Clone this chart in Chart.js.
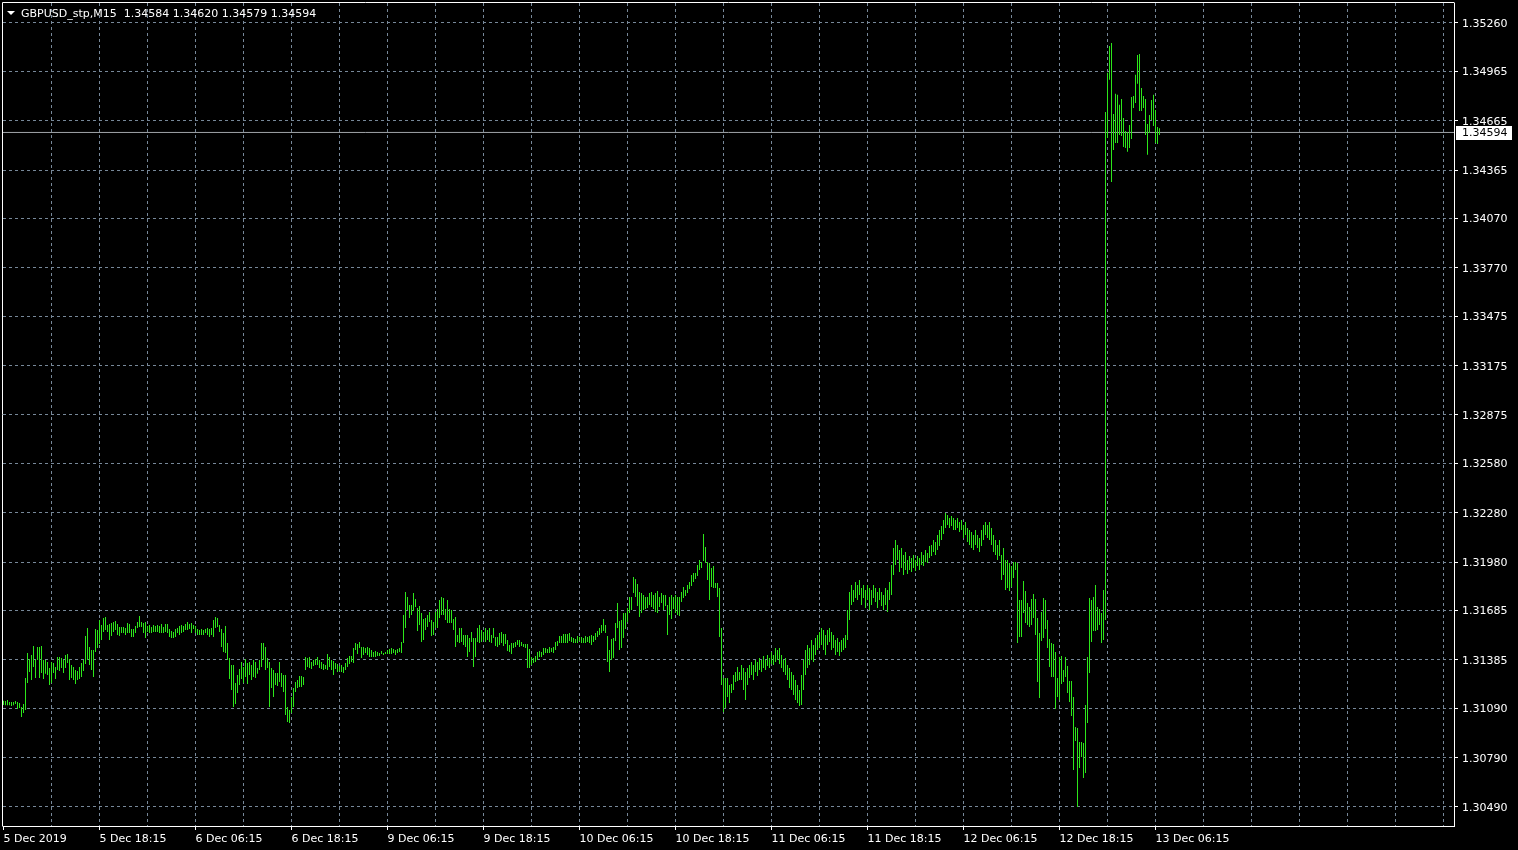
<!DOCTYPE html>
<html>
<head>
<meta charset="utf-8">
<title>GBPUSD_stp,M15</title>
<script src="https://cdn.jsdelivr.net/npm/chart.js@4.4.1/dist/chart.umd.min.js"></script>
<style>
  html, body { margin: 0; padding: 0; background: #000; }
  #wrap { width: 1518px; height: 850px; }
</style>
</head>
<body>
<div id="wrap"><canvas id="chart" width="1518" height="850"></canvas></div>
<script>
const symbol = "GBPUSD_stp,M15";
// open, high, low, close of the last bar
const lastBar = [1.34584, 1.34620, 1.34579, 1.34594];

const xTickLabels = ["5 Dec 2019", "5 Dec 18:15", "6 Dec 06:15", "6 Dec 18:15", "9 Dec 06:15", "9 Dec 18:15",
  "10 Dec 06:15", "10 Dec 18:15", "11 Dec 06:15", "11 Dec 18:15", "12 Dec 06:15", "12 Dec 18:15", "13 Dec 06:15"];

const yTickLabels = ["1.35260", "1.34965", "1.34665", "1.34365", "1.34070", "1.33770", "1.33475", "1.33175",
  "1.32875", "1.32580", "1.32280", "1.31980", "1.31685", "1.31385", "1.31090", "1.30790", "1.30490"];

// M15 bar highs, one per bar
const highs = [
  1.31137,1.31135,1.31141,1.31129,1.31129,1.31129,1.31135,1.31129,1.31123,1.31098,
  1.31117,1.31275,1.31427,1.31390,1.31415,1.31470,1.31384,1.31464,1.31464,1.31470,
  1.31384,1.31384,1.31372,1.31336,1.31372,1.31366,1.31342,1.31403,1.31403,1.31397,
  1.31384,1.31415,1.31421,1.31390,1.31354,1.31342,1.31324,1.31318,1.31342,1.31366,
  1.31384,1.31530,1.31579,1.31464,1.31445,1.31445,1.31573,1.31567,1.31628,1.31597,
  1.31640,1.31646,1.31597,1.31603,1.31609,1.31616,1.31622,1.31603,1.31585,1.31585,
  1.31585,1.31579,1.31609,1.31603,1.31573,1.31573,1.31591,1.31616,1.31652,1.31616,
  1.31609,1.31616,1.31591,1.31597,1.31585,1.31597,1.31591,1.31597,1.31591,1.31603,
  1.31585,1.31603,1.31603,1.31573,1.31561,1.31555,1.31573,1.31579,1.31591,1.31597,
  1.31591,1.31603,1.31616,1.31603,1.31609,1.31597,1.31591,1.31573,1.31567,1.31573,
  1.31567,1.31573,1.31579,1.31573,1.31579,1.31628,1.31646,1.31640,1.31597,1.31573,
  1.31549,1.31591,1.31488,1.31397,1.31354,1.31354,1.31245,1.31293,1.31330,1.31372,
  1.31342,1.31390,1.31366,1.31372,1.31354,1.31384,1.31372,1.31336,1.31384,1.31488,
  1.31488,1.31464,1.31397,1.31372,1.31336,1.31324,1.31306,1.31306,1.31372,1.31306,
  1.31293,1.31293,1.31098,1.31080,1.31159,1.31214,1.31251,1.31263,1.31287,1.31287,
  1.31281,1.31403,1.31397,1.31403,1.31372,1.31384,1.31390,1.31403,1.31384,1.31372,
  1.31360,1.31354,1.31421,1.31403,1.31384,1.31378,1.31366,1.31360,1.31348,1.31354,
  1.31342,1.31366,1.31397,1.31409,1.31409,1.31457,1.31488,1.31482,1.31494,1.31464,
  1.31464,1.31457,1.31464,1.31457,1.31445,1.31433,1.31439,1.31433,1.31427,1.31439,
  1.31427,1.31433,1.31445,1.31451,1.31457,1.31451,1.31445,1.31451,1.31457,1.31494,
  1.31658,1.31798,1.31768,1.31719,1.31719,1.31792,1.31755,1.31701,1.31713,1.31670,
  1.31634,1.31640,1.31658,1.31677,1.31628,1.31616,1.31677,1.31695,1.31749,1.31768,
  1.31762,1.31695,1.31749,1.31695,1.31689,1.31634,1.31646,1.31536,1.31579,1.31579,
  1.31536,1.31536,1.31536,1.31518,1.31555,1.31518,1.31518,1.31579,1.31597,1.31567,
  1.31555,1.31579,1.31567,1.31579,1.31536,1.31579,1.31524,1.31524,1.31549,1.31555,
  1.31543,1.31543,1.31506,1.31476,1.31488,1.31488,1.31494,1.31506,1.31506,1.31494,
  1.31482,1.31482,1.31482,1.31451,1.31403,1.31397,1.31409,1.31433,1.31439,1.31433,
  1.31457,1.31457,1.31451,1.31464,1.31457,1.31464,1.31494,1.31500,1.31530,1.31530,
  1.31543,1.31543,1.31543,1.31549,1.31524,1.31518,1.31512,1.31530,1.31524,1.31524,
  1.31518,1.31530,1.31524,1.31530,1.31536,1.31530,1.31549,1.31561,1.31579,1.31597,
  1.31634,1.31597,1.31530,1.31445,1.31512,1.31518,1.31609,1.31731,1.31622,1.31628,
  1.31670,1.31670,1.31701,1.31768,1.31768,1.31889,1.31877,1.31847,1.31798,1.31792,
  1.31780,1.31768,1.31768,1.31792,1.31798,1.31780,1.31792,1.31804,1.31768,1.31792,
  1.31780,1.31780,1.31719,1.31768,1.31780,1.31768,1.31780,1.31768,1.31768,1.31798,
  1.31828,1.31810,1.31841,1.31859,1.31901,1.31914,1.31914,1.31962,1.31993,1.31980,
  1.32151,1.32072,1.31980,1.31974,1.31944,1.31956,1.31853,1.31853,1.31822,1.31579,
  1.31275,1.31275,1.31275,1.31232,1.31239,1.31293,1.31312,1.31342,1.31312,1.31354,
  1.31336,1.31312,1.31336,1.31354,1.31372,1.31354,1.31384,1.31372,1.31397,1.31384,
  1.31409,1.31384,1.31415,1.31397,1.31433,1.31415,1.31457,1.31445,1.31457,1.31415,
  1.31384,1.31397,1.31354,1.31336,1.31312,1.31293,1.31263,1.31232,1.31202,1.31293,
  1.31384,1.31445,1.31476,1.31457,1.31506,1.31476,1.31518,1.31536,1.31555,1.31579,
  1.31567,1.31536,1.31567,1.31579,1.31555,1.31536,1.31506,1.31518,1.31494,1.31506,
  1.31518,1.31536,1.31689,1.31798,1.31841,1.31810,1.31859,1.31841,1.31871,1.31822,
  1.31841,1.31810,1.31841,1.31822,1.31810,1.31841,1.31822,1.31798,1.31822,1.31798,
  1.31780,1.31822,1.31810,1.31859,1.31962,1.32066,1.32114,1.32084,1.32054,1.32066,
  1.32023,1.32042,1.31993,1.32017,1.32005,1.32023,1.31993,1.32017,1.32005,1.32042,
  1.32023,1.32054,1.32036,1.32078,1.32084,1.32114,1.32102,1.32145,1.32175,1.32199,
  1.32236,1.32279,1.32266,1.32248,1.32260,1.32248,1.32236,1.32248,1.32224,1.32236,
  1.32205,1.32224,1.32187,1.32175,1.32163,1.32145,1.32175,1.32145,1.32126,1.32175,
  1.32205,1.32224,1.32205,1.32224,1.32187,1.32145,1.32114,1.32084,1.32114,1.32023,
  1.32066,1.31993,1.31993,1.31974,1.31956,1.31980,1.31980,1.31974,1.31749,1.31749,
  1.31865,1.31804,1.31731,1.31707,1.31755,1.31786,1.31755,1.31640,1.31549,1.31677,
  1.31762,1.31749,1.31628,1.31512,1.31488,1.31482,1.31433,1.31275,1.31403,1.31409,
  1.31324,1.31403,1.31348,1.31257,1.31257,1.31159,1.30977,1.30971,1.30885,1.30885,
  1.30879,1.31111,1.31403,1.31762,1.31749,1.31768,1.31841,1.31707,1.31695,1.31670,
  1.31810,1.34719,1.34957,1.35120,1.35139,1.34707,1.34829,1.34823,1.34762,1.34798,
  1.34682,1.34603,1.34597,1.34640,1.34810,1.34816,1.34945,1.35066,1.35072,1.34865,
  1.34816,1.34798,1.34646,1.34701,1.34792,1.34823,1.34731,1.34627,1.34620
];

// M15 bar lows, one per bar
const lows = [
  1.31111,1.31109,1.31109,1.31109,1.31104,1.31109,1.31117,1.31086,1.31092,1.31037,
  1.31062,1.31080,1.31245,1.31312,1.31263,1.31342,1.31275,1.31384,1.31275,1.31306,
  1.31269,1.31300,1.31293,1.31232,1.31245,1.31306,1.31269,1.31324,1.31318,1.31336,
  1.31306,1.31336,1.31366,1.31263,1.31275,1.31263,1.31239,1.31263,1.31269,1.31281,
  1.31318,1.31360,1.31384,1.31354,1.31324,1.31281,1.31433,1.31457,1.31482,1.31506,
  1.31555,1.31567,1.31555,1.31506,1.31530,1.31555,1.31567,1.31536,1.31530,1.31549,
  1.31549,1.31536,1.31549,1.31549,1.31524,1.31524,1.31549,1.31579,1.31585,1.31585,
  1.31549,1.31518,1.31555,1.31549,1.31549,1.31555,1.31555,1.31555,1.31549,1.31549,
  1.31549,1.31555,1.31549,1.31524,1.31518,1.31518,1.31524,1.31549,1.31536,1.31549,
  1.31555,1.31567,1.31567,1.31573,1.31549,1.31573,1.31549,1.31536,1.31536,1.31536,
  1.31536,1.31549,1.31536,1.31524,1.31536,1.31524,1.31579,1.31585,1.31555,1.31464,
  1.31433,1.31427,1.31384,1.31269,1.31202,1.31098,1.31117,1.31184,1.31232,1.31269,
  1.31245,1.31281,1.31239,1.31293,1.31263,1.31281,1.31275,1.31300,1.31324,1.31342,
  1.31384,1.31324,1.31336,1.31098,1.31214,1.31159,1.31232,1.31226,1.31251,1.31220,
  1.31190,1.31050,1.31007,1.31001,1.31062,1.31098,1.31190,1.31214,1.31220,1.31220,
  1.31232,1.31324,1.31342,1.31336,1.31330,1.31348,1.31354,1.31354,1.31336,1.31330,
  1.31324,1.31330,1.31324,1.31342,1.31324,1.31293,1.31330,1.31312,1.31318,1.31312,
  1.31306,1.31324,1.31342,1.31360,1.31372,1.31366,1.31445,1.31421,1.31457,1.31397,
  1.31415,1.31427,1.31415,1.31403,1.31403,1.31403,1.31403,1.31409,1.31409,1.31421,
  1.31415,1.31421,1.31421,1.31421,1.31421,1.31427,1.31415,1.31427,1.31433,1.31427,
  1.31488,1.31579,1.31689,1.31640,1.31658,1.31683,1.31707,1.31561,1.31597,1.31494,
  1.31506,1.31567,1.31585,1.31616,1.31530,1.31536,1.31579,1.31579,1.31640,1.31658,
  1.31658,1.31628,1.31609,1.31609,1.31609,1.31567,1.31464,1.31494,1.31488,1.31494,
  1.31476,1.31464,1.31403,1.31433,1.31494,1.31342,1.31403,1.31494,1.31488,1.31494,
  1.31506,1.31494,1.31506,1.31494,1.31488,1.31518,1.31470,1.31464,1.31476,1.31488,
  1.31470,1.31482,1.31439,1.31433,1.31421,1.31457,1.31464,1.31476,1.31464,1.31470,
  1.31464,1.31457,1.31336,1.31336,1.31354,1.31366,1.31372,1.31384,1.31403,1.31403,
  1.31415,1.31427,1.31427,1.31427,1.31433,1.31427,1.31445,1.31470,1.31488,1.31488,
  1.31488,1.31488,1.31488,1.31500,1.31494,1.31488,1.31488,1.31488,1.31500,1.31488,
  1.31488,1.31488,1.31494,1.31488,1.31476,1.31494,1.31506,1.31524,1.31536,1.31549,
  1.31561,1.31549,1.31372,1.31312,1.31384,1.31397,1.31500,1.31579,1.31445,1.31457,
  1.31518,1.31573,1.31616,1.31670,1.31689,1.31792,1.31768,1.31713,1.31646,1.31670,
  1.31689,1.31695,1.31701,1.31719,1.31707,1.31695,1.31677,1.31670,1.31707,1.31731,
  1.31689,1.31713,1.31536,1.31658,1.31634,1.31695,1.31670,1.31658,1.31652,1.31737,
  1.31762,1.31774,1.31792,1.31816,1.31835,1.31859,1.31877,1.31895,1.31932,1.31944,
  1.31987,1.31974,1.31871,1.31749,1.31828,1.31822,1.31822,1.31768,1.31524,1.31232,
  1.31068,1.31092,1.31159,1.31123,1.31184,1.31202,1.31251,1.31257,1.31263,1.31263,
  1.31202,1.31141,1.31232,1.31275,1.31293,1.31263,1.31312,1.31287,1.31324,1.31312,
  1.31336,1.31324,1.31348,1.31336,1.31360,1.31354,1.31372,1.31384,1.31360,1.31336,
  1.31312,1.31293,1.31263,1.31214,1.31202,1.31172,1.31141,1.31123,1.31104,1.31111,
  1.31202,1.31293,1.31336,1.31354,1.31384,1.31372,1.31415,1.31445,1.31457,1.31476,
  1.31445,1.31415,1.31476,1.31494,1.31445,1.31457,1.31415,1.31433,1.31409,1.31433,
  1.31445,1.31457,1.31506,1.31628,1.31719,1.31737,1.31762,1.31749,1.31780,1.31719,
  1.31762,1.31701,1.31749,1.31689,1.31719,1.31762,1.31737,1.31701,1.31749,1.31713,
  1.31689,1.31719,1.31677,1.31749,1.31780,1.31901,1.31962,1.31993,1.31920,1.31944,
  1.31901,1.31932,1.31908,1.31932,1.31920,1.31944,1.31926,1.31956,1.31932,1.31962,
  1.31956,1.31980,1.31974,1.32005,1.32017,1.32042,1.32023,1.32054,1.32078,1.32114,
  1.32151,1.32187,1.32205,1.32187,1.32199,1.32175,1.32175,1.32187,1.32163,1.32175,
  1.32126,1.32145,1.32102,1.32084,1.32066,1.32054,1.32084,1.32066,1.32042,1.32078,
  1.32114,1.32145,1.32126,1.32114,1.32084,1.32042,1.32023,1.31993,1.32017,1.31871,
  1.31901,1.31810,1.31822,1.31804,1.31828,1.31883,1.31932,1.31488,1.31524,1.31524,
  1.31670,1.31609,1.31597,1.31585,1.31597,1.31640,1.31536,1.31251,1.31153,1.31500,
  1.31518,1.31573,1.31457,1.31342,1.31281,1.31281,1.31086,1.31159,1.31141,1.31239,
  1.31251,1.31281,1.31184,1.31129,1.31043,1.30715,1.30892,1.30490,1.30727,1.30794,
  1.30666,1.30697,1.31001,1.31306,1.31494,1.31561,1.31561,1.31567,1.31597,1.31488,
  1.31506,1.31628,1.34560,1.34914,1.34293,1.34488,1.34530,1.34530,1.34579,1.34573,
  1.34505,1.34499,1.34476,1.34499,1.34554,1.34743,1.34774,1.34890,1.34725,1.34725,
  1.34743,1.34579,1.34458,1.34591,1.34670,1.34633,1.34530,1.34524,1.34579
];

const barColor = "#2ce61a";
const gridColor = "#778899";
const bidLineColor = "#a0a4a8";
const font = { family: "'DejaVu Sans', sans-serif", size: 11 };
const lastClose = lastBar[3];

const barsData = highs.map((h, i) => ({ x: i, y: [lows[i], h] }));

// white frame on top/left, bid price tag on the axis, symbol header
const terminalDecor = {
  id: "terminalDecor",
  afterDraw(chart) {
    const { ctx, chartArea: a } = chart;
    ctx.save();
    ctx.strokeStyle = "#fff";
    ctx.lineWidth = 1;
    ctx.beginPath();
    ctx.moveTo(a.left - 0.5, a.bottom + 0.5);
    ctx.lineTo(a.left - 0.5, a.top - 0.5);
    ctx.lineTo(a.right + 0.5, a.top - 0.5);
    ctx.stroke();

    const y = Math.round(chart.scales.y.getPixelForValue(lastClose));
    ctx.fillStyle = "#fff";
    ctx.fillRect(a.right + 2, y - 6, 56, 14);
    ctx.fillStyle = "#000";
    ctx.font = "11px 'DejaVu Sans'";
    ctx.textBaseline = "middle";
    ctx.fillText(lastClose.toFixed(5), a.right + 8, y + 1);

    ctx.fillStyle = "#fff";
    ctx.beginPath();
    ctx.moveTo(7, 11);
    ctx.lineTo(15, 11);
    ctx.lineTo(11, 15);
    ctx.closePath();
    ctx.fill();
    ctx.textBaseline = "alphabetic";
    ctx.fillText(symbol + "  " + lastBar.map(v => v.toFixed(5)).join(" "), 21, 17);
    ctx.restore();
  }
};

new Chart(document.getElementById("chart"), {
  type: "bar",
  data: {
    datasets: [
      {
        type: "bar",
        data: barsData,
        backgroundColor: barColor,
        borderWidth: 0,
        barThickness: 1,
        grouped: false,
        inflateAmount: 0,
        order: 0
      },
      {
        type: "line",
        data: [{ x: -0.25, y: lastClose }, { x: 725.25, y: lastClose }],
        borderColor: bidLineColor,
        borderWidth: 1,
        pointRadius: 0,
        order: 1
      }
    ]
  },
  options: {
    responsive: false,
    animation: false,
    devicePixelRatio: 1,
    events: [],
    layout: { padding: { left: 3, top: 3, right: 0, bottom: 0 } },
    plugins: { legend: { display: false }, tooltip: { enabled: false } },
    scales: {
      x: {
        type: "linear",
        position: "bottom",
        offset: false,
        min: -0.25,
        max: 725.25,
        afterBuildTicks(scale) {
          const ticks = [];
          for (let v = 0; v <= 720; v += 24) ticks.push({ value: v });
          scale.ticks = ticks;
        },
        afterFit(scale) {
          scale.height = 24;
          scale.paddingLeft = 0;
          scale.paddingRight = 0;
        },
        ticks: {
          autoSkip: false,
          maxRotation: 0,
          align: "start",
          padding: 3,
          color: "#fff",
          font,
          callback: v => (v % 48 === 0 && xTickLabels[v / 48]) || ""
        },
        grid: {
          offset: false,
          color: c => (c.tick && c.tick.value === 0 ? "rgba(0,0,0,0)" : gridColor),
          tickLength: 4,
          tickWidth: 1,
          tickColor: c => (c.tick && c.tick.value % 48 === 0 && xTickLabels[c.tick.value / 48] ? "#fff" : "rgba(0,0,0,0)")
        },
        border: { display: true, color: "#fff", width: 1, dash: [3, 3] }
      },
      y: {
        type: "linear",
        position: "right",
        min: 1.303744,
        max: 1.3538168,
        afterBuildTicks(scale) {
          scale.ticks = yTickLabels.map(l => ({ value: parseFloat(l) }));
        },
        afterFit(scale) {
          scale.width = 64;
          scale.paddingTop = 0;
          scale.paddingBottom = 0;
        },
        ticks: {
          padding: 4,
          labelOffset: 1,
          color: "#fff",
          font,
          callback: v => v.toFixed(5)
        },
        grid: { color: gridColor, tickLength: 4, tickWidth: 1, tickColor: "#fff" },
        border: { display: true, color: "#fff", width: 1, dash: [3, 3] }
      }
    }
  },
  plugins: [terminalDecor]
});
</script>
</body>
</html>
